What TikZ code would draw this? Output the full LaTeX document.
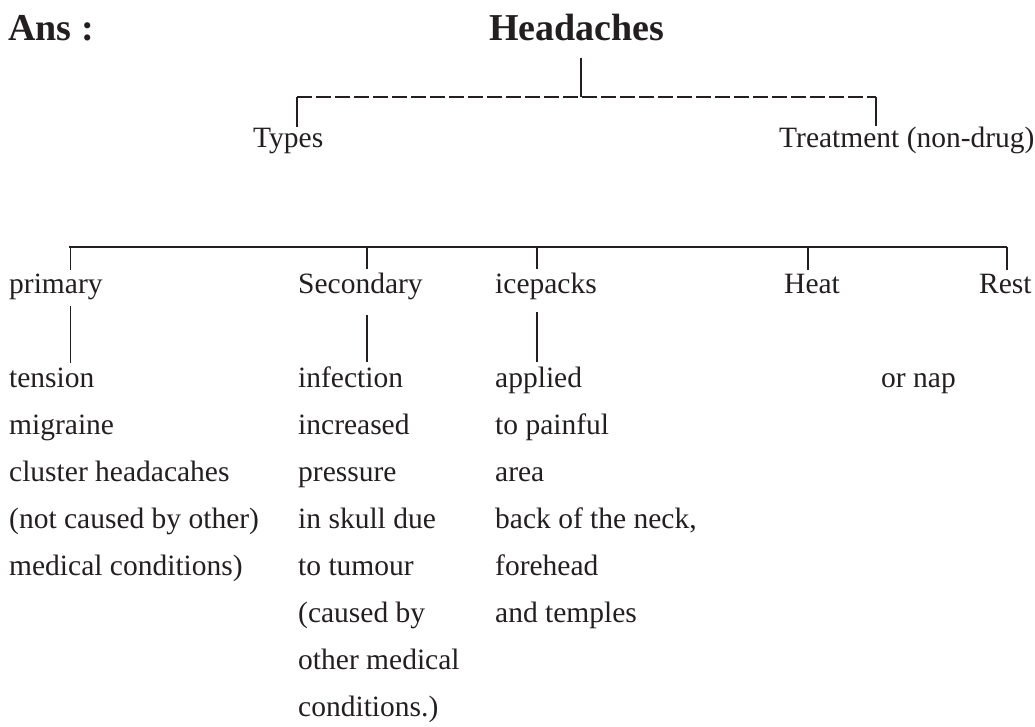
\documentclass[tikz,border=0pt]{standalone}
\usepackage{fontspec}
\setmainfont{Liberation Serif}
\usetikzlibrary{positioning}
\definecolor{ink}{RGB}{35,31,32}

\begin{document}
\begin{tikzpicture}[
    x=1pt, y=-1pt,
    txt/.style={inner sep=0pt, anchor=base west, text=ink, font=\fontsize{29.5}{36}\selectfont},
    ttl/.style={inner sep=0pt, anchor=base west, text=ink, font=\fontsize{38}{44}\selectfont\bfseries},
    col/.style={inner sep=0pt, text=ink, align=left, font=\fontsize{29.5}{47}\selectfont},
    stem/.style={draw=ink, line width=1.6pt},
    dashbar/.style={draw=ink, line width=1.6pt, dash pattern=on 15pt off 4pt},
    bar/.style={draw=ink, line width=1.1pt},
    node distance=54.7pt,
]
\useasboundingbox (0,0) rectangle (1035,726);

% ---- Title row ----
\node[ttl] (ans) at (8,40) {Ans :};
\node[ttl] (head) at (489,40) {Headaches};

% ---- Types / Treatment ----
\node[txt] (types) at (253,147) {Types};
\node[txt] (treat) at (779,147) {Treatment (non-drug)};

\coordinate (hb) at (581,97);
\coordinate (tl) at (297,97);
\coordinate (tr) at (876,97);
\draw[stem, shorten <=17pt] (hb |- head.south) -- (hb);
\draw[dashbar] (tl) -- (tr);
\draw[stem] (tl) -- (tl |- types.north);
\draw[stem] (tr) -- (tr |- treat.north);

% ---- Second level: labels under one bar ----
\node[txt] (primary) at (9,293) {primary};
\node[txt] (second) at (298,293) {Secondary};
\node[txt] (ice) at (495,293) {icepacks};
\node[txt] (heat) at (784,293) {Heat};
\node[txt] (rest) at (979,293) {Rest};

\coordinate (lb) at (69,247);
\coordinate (le) at (1007,247);
\coordinate (xa) at (70.5,0);
\coordinate (xb) at (367,0);
\coordinate (xc) at (537,0);
\coordinate (xd) at (808,0);
\draw[bar] (lb) -- (le);
\draw[stem, shorten >=3pt] (xa |- lb) -- (xa |- primary.north);
\draw[stem, shorten >=3pt] (xb |- lb) -- (xb |- second.north);
\draw[stem, shorten >=3pt] (xc |- lb) -- (xc |- ice.north);
\draw[stem, shorten >=3pt] (xd |- lb) -- (xd |- heat.north);
\draw[stem, shorten >=3pt] (le) -- (le |- rest.north);

% ---- Details under each label ----
\node[col, below=of primary.south west, anchor=north west] (primtxt) {\strut tension\\ migraine\\ cluster headacahes\\ (not caused by other)\\ medical conditions)};
\node[col, below=of second.south west, anchor=north west] (sectxt) {\strut infection\\ increased\\ pressure\\ in skull due\\ to tumour\\ (caused by\\ other medical\\ conditions.)};
\node[col, below=of ice.south west, anchor=north west] (icetxt) {\strut applied\\ to painful\\ area\\ back of the neck,\\ forehead\\ and temples};
\node[txt] (naptxt) at (881,387) {or nap};

\draw[stem, shorten <=6.6pt, shorten >=-8.9pt] (xa |- primary.south) -- (xa |- primtxt.north);
\draw[stem, shorten <=15.6pt, shorten >=-7.9pt] (xb |- second.south) -- (xb |- sectxt.north);
\draw[stem, shorten <=12.6pt, shorten >=-7.9pt] (xc |- ice.south) -- (xc |- icetxt.north);

\end{tikzpicture}
\end{document}
